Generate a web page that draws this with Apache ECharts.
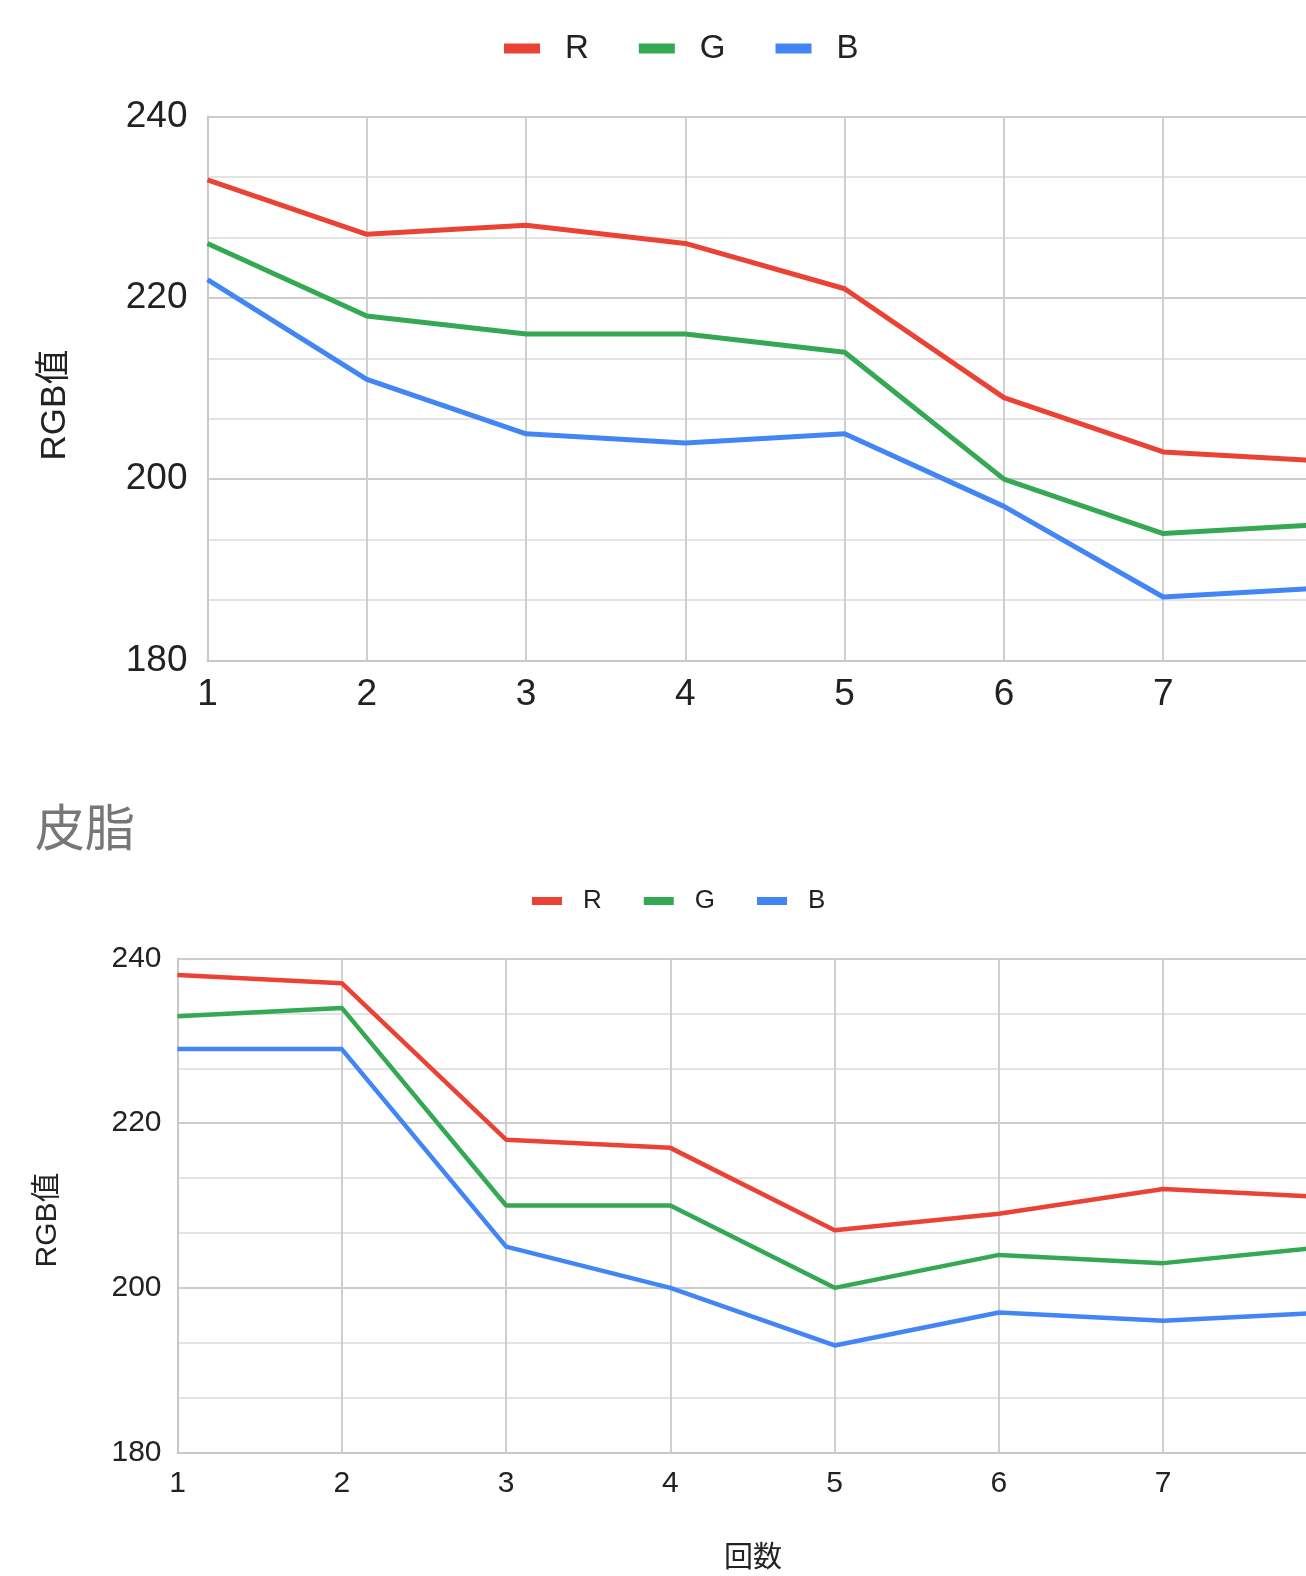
<!DOCTYPE html>
<html>
<head>
<meta charset="utf-8">
<script src="https://cdn.jsdelivr.net/npm/echarts@6/dist/echarts.min.js"></script>
<style>
html,body{margin:0;padding:0;background:#fff;overflow:hidden;width:1306px;height:1576px;}
#chart{width:1400px;height:1576px;}
</style>
</head>
<body>
<div id="chart"></div>
<script>
const categories = ['1', '2', '3', '4', '5', '6', '7', '8'];
const seriesNames = ['R', 'G', 'B'];
const colors = ['#EA4335', '#34A853', '#4285F4'];
// upper chart (title cut off above)
const topR = [233, 227, 228, 226, 221, 209, 203, 202];
const topG = [226, 218, 216, 216, 214, 200, 194, 195];
const topB = [222, 211, 205, 204, 205, 197, 187, 188];
// 皮脂 chart
const sebumR = [238, 237, 218, 217, 207, 209, 212, 211];
const sebumG = [233, 234, 210, 210, 200, 204, 203, 205];
const sebumB = [229, 229, 205, 200, 193, 197, 196, 197];
const yTicks = [180, 200, 220, 240];
const chartTitle = '皮脂';
const yName = 'RGB值';
const xName = '回数';

const FONT = '"Liberation Sans", Arial, "Noto Sans CJK JP", sans-serif';
const CJK = '"Noto Sans CJK JP", "Noto Sans CJK SC", sans-serif';

function xAxisFor(gridIndex, fs, margin) {
  return {
    type: 'category', gridIndex: gridIndex, data: categories, boundaryGap: false,
    axisLine: {show: true, lineStyle: {color: '#c8c8c8', width: 2}},
    axisTick: {show: false},
    axisLabel: {color: '#222', fontSize: fs, fontFamily: FONT, margin: margin, interval: 0},
    splitLine: {show: true, lineStyle: {color: '#cfcfcf', width: 2}}
  };
}
function yAxisFor(gridIndex, fs, margin) {
  return {
    type: 'value', gridIndex: gridIndex,
    min: yTicks[0], max: yTicks[yTicks.length - 1], interval: 20,
    axisLine: {show: true, lineStyle: {color: '#c8c8c8', width: 2}},
    axisTick: {show: false},
    axisLabel: {color: '#222', fontSize: fs, fontFamily: FONT, margin: margin},
    splitLine: {show: true, lineStyle: {color: '#cccccc', width: 2}},
    minorTick: {show: false, splitNumber: 3},
    minorSplitLine: {show: true, lineStyle: {color: '#e3e3e3', width: 2}}
  };
}
function lineSeries(name, data, idx, w, color) {
  return {
    name: name, type: 'line', data: data, xAxisIndex: idx, yAxisIndex: idx,
    showSymbol: false, symbol: 'none',
    lineStyle: {width: w, color: color, join: 'round'},
    itemStyle: {color: color}, animation: false
  };
}

const chart = echarts.init(document.getElementById('chart'), null, {renderer: 'canvas'});
chart.setOption({
  backgroundColor: '#fff',
  animation: false,
  legend: [
    {
      left: 504, top: 32, padding: 0,
      itemWidth: 36, itemHeight: 10, itemGap: 50,
      icon: 'rect',
      data: seriesNames,
      textStyle: {color: '#222', fontSize: 33, fontFamily: FONT, padding: [0, 0, 0, 20]}
    },
    {
      left: 532, top: 888, padding: 0,
      itemWidth: 30, itemHeight: 8, itemGap: 42,
      icon: 'rect',
      data: seriesNames,
      textStyle: {color: '#222', fontSize: 26, fontFamily: FONT, padding: [0, 0, 0, 16]}
    }
  ],
  grid: [
    {left: 207.5, top: 116.5, width: 1115, height: 544, containLabel: false},
    {left: 177.5, top: 958.5, width: 1150, height: 494, containLabel: false}
  ],
  xAxis: [xAxisFor(0, 37, 16), xAxisFor(1, 30, 16)],
  yAxis: [yAxisFor(0, 37, 20), yAxisFor(1, 30, 16)],
  series: [
    lineSeries(seriesNames[0], topR, 0, 5, colors[0]),
    lineSeries(seriesNames[1], topG, 0, 5, colors[1]),
    lineSeries(seriesNames[2], topB, 0, 5, colors[2]),
    lineSeries(seriesNames[0], sebumR, 1, 4.5, colors[0]),
    lineSeries(seriesNames[1], sebumG, 1, 4.5, colors[1]),
    lineSeries(seriesNames[2], sebumB, 1, 4.5, colors[2])
  ],
  graphic: [
    {type: 'text', left: 35, top: 802, style: {text: chartTitle, fontSize: 50, fontFamily: CJK, fill: '#777777'}},
    {type: 'text', x: 55, y: 405, rotation: Math.PI / 2,
     style: {text: yName, fontSize: 35, fontFamily: FONT, fill: '#222', align: 'center', verticalAlign: 'middle'}},
    {type: 'text', x: 48, y: 1220, rotation: Math.PI / 2,
     style: {text: yName, fontSize: 30, fontFamily: FONT, fill: '#222', align: 'center', verticalAlign: 'middle'}},
    {type: 'text', x: 753, y: 1556,
     style: {text: xName, fontSize: 29, fontFamily: CJK, fill: '#222', align: 'center', verticalAlign: 'middle'}}
  ]
});
</script>
</body>
</html>
